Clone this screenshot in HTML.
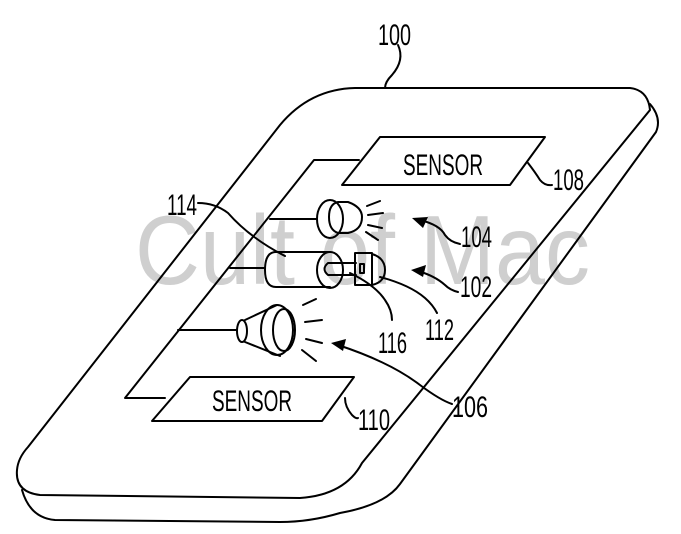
<!DOCTYPE html>
<html><head><style>
html,body{margin:0;padding:0;background:#fff;width:681px;height:534px;overflow:hidden}
svg{display:block}
text{font-family:"Liberation Sans",sans-serif;fill:#000}
</style></head><body>
<svg width="681" height="534" viewBox="0 0 681 534" xmlns="http://www.w3.org/2000/svg">
<!-- watermark -->
<text x="135" y="284" font-size="98" style="fill:#cfcfcf" textLength="455" lengthAdjust="spacingAndGlyphs">Cult of Mac</text>
<g fill="none" stroke="#000" stroke-width="2" stroke-linecap="round" stroke-linejoin="round">
<!-- device face -->
<path d="M355,88 L630,88 Q648,90 650,110 L362,463 Q345,495 300,498 L40,495 Q15,492 17,470 Q18,458 28,447 L280,125 Q310,89 355,88 Z"/>
<!-- thickness -->
<path d="M650,104 Q662,118 656,132 L400,484 Q385,505 340,513 Q310,522 280,522 L55,520 Q30,518 22,490"/>
<!-- inner frame -->
<path d="M359,160 L314,160 L125,398 L165,398"/>
<!-- sensors -->
<path d="M380,137 L545,137 L510,185 L342,185 Z"/>
<path d="M190,377 L354,377 L322,421 L152,421 Z"/>
<!-- LED 104 -->
<line x1="270" y1="219" x2="317" y2="219"/>
<ellipse cx="330" cy="219" rx="13" ry="19"/>
<path d="M338,202 L348,202 Q362,207 362,217 Q362,230 348,233 L338,233 Q329,230 329,217 Q329,204 338,202 Z"/>
<path d="M367,206 L380,201 M368,215 L383,213 M368,225 L382,228 M366,232 L378,240"/>
<!-- cylinder 102 -->
<line x1="230" y1="268" x2="265" y2="268"/>
<path d="M330,252 L276,252 Q265,252 265,270 Q265,287 276,287 L330,287"/>
<ellipse cx="330" cy="270" rx="13" ry="18"/>
<path d="M356,263 L328,263 Q321,269 328,275 L356,275"/>
<rect x="355" y="253" width="17" height="32"/>
<path d="M372,254 Q385,258 385,270 Q385,282 372,285"/>
<rect x="360" y="264" width="4" height="9"/>
<!-- speaker 106 -->
<line x1="178" y1="330" x2="237" y2="330"/>
<ellipse cx="242" cy="331" rx="5" ry="11"/>
<path d="M245,320 L277,305 M245,342 L280,356"/>
<ellipse cx="277" cy="330" rx="16" ry="25"/>
<ellipse cx="284" cy="330" rx="11" ry="21"/>
<path d="M303,305 L316,299 M305,322 L322,320 M306,339 L322,343 M302,350 L316,361"/>
<!-- leaders -->
<path d="M398,45 Q405,60 392,75 Q385,82 385,88"/>
<path d="M198,203 Q215,203 228,213 Q250,238 285,256"/>
<path d="M420,220 Q440,225 445,235 Q450,242 460,244"/>
<path d="M418,271 Q435,276 445,285 Q450,290 458,292"/>
<path d="M380,277 Q410,285 425,298 Q433,305 437,313"/>
<path d="M350,273 Q375,285 385,300 Q392,310 392,320"/>
<path d="M338,345 Q390,362 420,385 Q440,400 452,404"/>
<path d="M528,163 Q535,172 540,180 Q545,186 552,185"/>
<path d="M345,398 Q345,407 352,415 Q356,419 358,418"/>
</g>
<!-- arrowheads -->
<g fill="#000">
<polygon points="412,218 428,217 423,228"/>
<polygon points="411,270 426,265 423,277"/>
<polygon points="331,343 346,339 343,351"/>
</g>
<g font-size="30">
<text x="378" y="45" textLength="33" lengthAdjust="spacingAndGlyphs">100</text>
<text x="403" y="175" textLength="80" lengthAdjust="spacingAndGlyphs">SENSOR</text>
<text x="212" y="411" textLength="80" lengthAdjust="spacingAndGlyphs">SENSOR</text>
<text x="167" y="215" textLength="30" lengthAdjust="spacingAndGlyphs">114</text>
<text x="461" y="247" textLength="31" lengthAdjust="spacingAndGlyphs">104</text>
<text x="460" y="297" textLength="32" lengthAdjust="spacingAndGlyphs">102</text>
<text x="425" y="340" textLength="29" lengthAdjust="spacingAndGlyphs">112</text>
<text x="378" y="353" textLength="29" lengthAdjust="spacingAndGlyphs">116</text>
<text x="452" y="417" textLength="36" lengthAdjust="spacingAndGlyphs">106</text>
<text x="553" y="190" textLength="31" lengthAdjust="spacingAndGlyphs">108</text>
<text x="358" y="430" textLength="32" lengthAdjust="spacingAndGlyphs">110</text>
</g>
</svg>
</body></html>
